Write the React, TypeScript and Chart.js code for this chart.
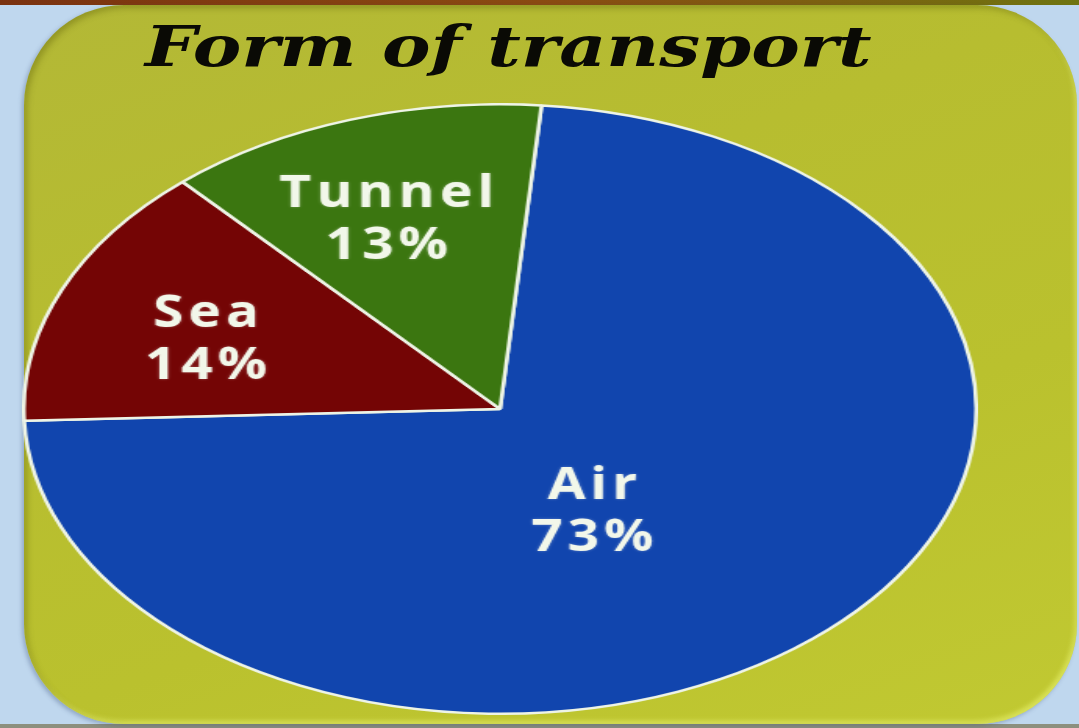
import React, { useEffect, useRef } from "react";
import { Chart, registerables } from "chart.js";

Chart.register(...registerables);

const TITLE = "Form of transport";
const categories = ["Air", "Sea", "Tunnel"];
const shares = [73, 14, 13];
const sliceColors = ["#1145ae", "#740505", "#3b7610"];
// label placement (fraction of radius, angle offset in degrees)
const labelRadius = [0.382, 0.66, 0.673];
const labelAngleOffset = [13.1, -2.3, -2.3];

// ellipse geometry on the page
const CX = 500;
const CY = 409;
const RX = 475;
const RY = 304;
const SIZE = RY * 2 + 4;
const STRETCH = RX / RY;
const TEXT_SCALE = 1.25;
const LETTER_SPACING = 4;

const labelPlugin = {
  id: "sliceLabels",
  afterDatasetsDraw(chart: any) {
    const ctx = chart.ctx;
    const meta = chart.getDatasetMeta(0);
    meta.data.forEach((arc: any, i: number) => {
      const p = arc.getProps(["x", "y", "startAngle", "endAngle", "outerRadius"], true);
      const mid = (p.startAngle + p.endAngle) / 2 + (labelAngleOffset[i] * Math.PI) / 180;
      const r = p.outerRadius * labelRadius[i];
      const x = p.x + Math.cos(mid) * r;
      const y = p.y + Math.sin(mid) * r;
      ctx.save();
      ctx.translate(x, y);
      ctx.scale(TEXT_SCALE / STRETCH, 1);
      ctx.fillStyle = "#f2f7ea";
      ctx.font = "700 44px 'Open Sans', 'DejaVu Sans', sans-serif";
      ctx.textAlign = "center";
      ctx.textBaseline = "alphabetic";
      (ctx as any).letterSpacing = LETTER_SPACING + "px";
      ctx.shadowColor = "rgba(255,255,255,0.3)";
      ctx.shadowBlur = 3;
      ctx.fillText(categories[i], LETTER_SPACING / 2, -10.5);
      ctx.fillText(shares[i] + "%", LETTER_SPACING / 2, 41.5);
      ctx.restore();
    });
  },
};

export default function App() {
  const canvasRef = useRef<HTMLCanvasElement | null>(null);

  useEffect(() => {
    const canvas = canvasRef.current;
    if (!canvas) return;
    const chart = new Chart(canvas, {
      type: "pie",
      data: {
        labels: categories,
        datasets: [
          {
            data: shares,
            backgroundColor: sliceColors,
            borderColor: "#eef4e6",
            borderWidth: 2.5,
          },
        ],
      },
      options: {
        responsive: false,
        animation: false,
        rotation: 5,
        layout: { padding: 0 },
        plugins: {
          legend: { display: false },
          tooltip: { enabled: false },
          title: { display: false },
        },
      },
      plugins: [labelPlugin],
    });
    return () => chart.destroy();
  }, []);

  return (
    <div
      style={{
        position: "fixed",
        left: 0,
        top: 0,
        width: 1079,
        height: 728,
        overflow: "hidden",
        background: "#bfd7ee",
      }}
    >
      <div
        style={{
          position: "absolute",
          left: 0,
          top: 0,
          width: 1079,
          height: 5,
          background: "linear-gradient(90deg, #7a3210 0%, #8a4a12 50%, #6f7410 100%)",
        }}
      />
      <div
        style={{
          position: "absolute",
          left: 0,
          top: 724,
          width: 1079,
          height: 4,
          background: "#8c8f7e",
        }}
      />
      <div
        style={{
          position: "absolute",
          left: 24,
          top: 5,
          width: 1053,
          height: 719,
          borderRadius: 100,
          background:
            "linear-gradient(160deg, #b3b836 0%, #b7bd30 35%, #bac12e 65%, #c1c932 100%)",
          boxShadow:
            "inset 3px 3px 6px rgba(80,80,0,0.35), inset -2px -3px 5px rgba(240,250,120,0.6), -2px 2px 4px rgba(60,80,120,0.35)",
        }}
      />
      <div
        style={{
          position: "absolute",
          left: 145,
          top: 13,
          fontFamily: "'DejaVu Serif', serif",
          fontStyle: "italic",
          fontWeight: "bold",
          fontSize: 56,
          lineHeight: "66px",
          color: "#0a0a05",
          whiteSpace: "nowrap",
          transformOrigin: "0 0",
          transform: "scaleX(1.3)",
        }}
      >
        {TITLE}
      </div>
      <canvas
        ref={canvasRef}
        width={SIZE}
        height={SIZE}
        style={{
          position: "absolute",
          left: CX - SIZE / 2,
          top: CY - SIZE / 2,
          transformOrigin: "50% 50%",
          transform: `scaleX(${STRETCH})`,
        }}
      />
    </div>
  );
}
